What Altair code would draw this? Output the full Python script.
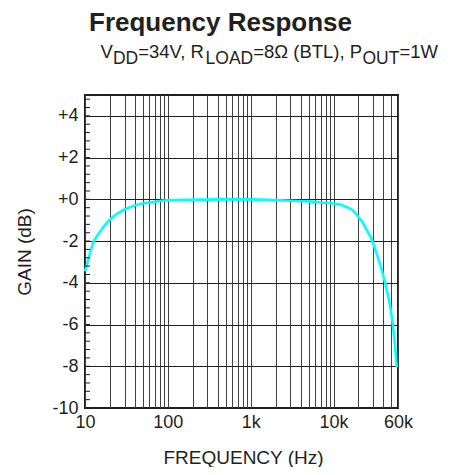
import altair as alt
import pandas as pd

# ---------------- data ----------------
freq_hz = [10, 11, 12.5, 15, 18.5, 22, 26.5, 33, 40, 50, 66, 85, 106, 200, 500,
           1000, 2000, 3000, 5000, 7000, 10000, 12000, 14500, 17000, 20000, 22000,
           25000, 28000, 32000, 38000, 44000, 50000, 54000, 58000]
gain_db = [-3.45, -2.85, -2.1, -1.58, -1.1, -0.82, -0.6, -0.42, -0.29, -0.2, -0.13,
           -0.07, -0.04, -0.02, 0.0, 0.0, -0.04, -0.07, -0.1, -0.15, -0.2, -0.25,
           -0.38, -0.52, -0.85, -1.05, -1.45, -1.8, -2.43, -3.35, -4.35, -5.5, -6.6, -8.05]

x_grid_values = [10, 20, 30, 40, 50, 60, 70, 80, 90,
                 100, 200, 300, 400, 500, 600, 700, 800, 900,
                 1000, 2000, 3000, 4000, 5000, 6000, 7000, 8000, 9000,
                 10000, 20000, 30000, 40000, 50000, 60000]
x_label_values = [10, 100, 1000, 10000, 60000]
x_label_texts = ["10", "100", "1k", "10k", "60k"]
y_tick_values = [-10, -8, -6, -4, -2, 0, 2, 4]
y_minor_ticks = [-10, -9.6, -9.2, -8.8, -8.4, -8, -7.6, -7.2, -6.8, -6.4, -6,
                 -5.6, -5.2, -4.8, -4.4, -4, -3.6, -3.2, -2.8, -2.4, -2, -1.6,
                 -1.2, -0.8, -0.4, 0, 0.4, 0.8, 1.2, 1.6, 2, 2.4, 2.8, 3.2, 3.6,
                 4, 4.4, 4.8]

title_text = "Frequency Response"
sub_pieces = [("V", False), ("DD", True), ("=34V, R", False), ("LOAD", True),
              ("=8Ω (BTL), P", False), ("OUT", True), ("=1W", False)]

# ---------------- layout helpers ----------------
W, H = 313, 313
FONT = "Liberation Sans"
INK = "#231f20"
MAIN_SIZE, SUB_SIZE = 18.5, 17.5
ARIAL = {"V": 667, "D": 722, "=": 584, "3": 556, "4": 556, ",": 278, " ": 278,
         "R": 722, "L": 556, "O": 778, "A": 667, "8": 556, "Ω": 768, "(": 333,
         "B": 667, "T": 611, ")": 333, "P": 667, "U": 722, "1": 556, "W": 944}


def text_w(s, size):
    return sum(ARIAL.get(c, 556) for c in s) * size / 1000.0


df = pd.DataFrame({"freq": freq_hz, "gain": gain_db})

x_scale = alt.Scale(type="log", domain=[10, 60000], nice=False)
y_scale = alt.Scale(domain=[-10, 5], nice=False)

label_expr = " : ".join(
    f"datum.value == {v} ? '{t}'" for v, t in zip(x_label_values, x_label_texts)
) + " : ''"

x_axis = alt.Axis(values=x_grid_values, labelExpr=label_expr, labelOverlap=False,
                  labelFlush=False, ticks=False, domain=False, grid=True,
                  gridColor="#404040", gridWidth=1, gridOpacity=1,
                  labelFont=FONT, labelFontSize=18, labelColor=INK,
                  labelPadding=5, title="FREQUENCY (Hz)", titleFont=FONT,
                  titleFontSize=19, titleFontWeight="normal", titleColor=INK,
                  titleX=158, titleY=55, titleBaseline="alphabetic", titleAlign="center")

y_axis = alt.Axis(values=y_tick_values,
                  labelExpr="datum.value >= 0 ? '+' + datum.value : '' + datum.value",
                  ticks=False, domain=False, grid=True, gridColor=INK,
                  gridWidth=1, gridOpacity=1, labelFont=FONT, labelFontSize=18,
                  labelColor=INK, labelPadding=7, labelOverlap=False,
                  title="GAIN (dB)",
                  titleFont=FONT, titleFontSize=19, titleFontWeight="normal",
                  titleColor=INK, titleAngle=-90, titleX=-61, titleY=H / 2,
                  titleAlign="center", titleBaseline="middle")

line = alt.Chart(df).mark_line(color="#00ffff", strokeWidth=2.6,
                               interpolate="monotone").encode(
    x=alt.X("freq:Q", scale=x_scale, axis=x_axis),
    y=alt.Y("gain:Q", scale=y_scale, axis=y_axis),
)

minor = alt.Chart(pd.DataFrame({"m": y_minor_ticks})).mark_rule(
    color=INK, strokeWidth=1).encode(
    y=alt.Y("m:Q", scale=y_scale, axis=y_axis),
    x=alt.value(0), x2=alt.value(5),
)

layers = [line, minor]

# title
layers.append(alt.Chart(pd.DataFrame({"t": [title_text]})).mark_text(
    font=FONT, fontSize=26, fontWeight="bold", color=INK, align="left",
    baseline="alphabetic").encode(text="t:N", x=alt.value(4), y=alt.value(-64.5)))

# subtitle with subscripts
total = sum(text_w(s, SUB_SIZE if sub else MAIN_SIZE) for s, sub in sub_pieces)
xpos = 438 - 85 - total
for s, sub in sub_pieces:
    size = SUB_SIZE if sub else MAIN_SIZE
    layers.append(alt.Chart(pd.DataFrame({"t": [s]})).mark_text(
        font=FONT, fontSize=size, color=INK, align="left",
        baseline="alphabetic").encode(
        text="t:N", x=alt.value(xpos), y=alt.value(-37 + (6 if sub else 0))))
    xpos += text_w(s, size)

chart = alt.layer(*layers).properties(
    width=W, height=H,
    background="white",
    autosize=alt.AutoSizeParams(type="none"),
    padding={"left": 77, "top": 87, "right": 45, "bottom": 59},
).configure_view(stroke=INK, strokeWidth=2)

chart.save("out.html", embed_options={"renderer": "svg", "actions": False})
